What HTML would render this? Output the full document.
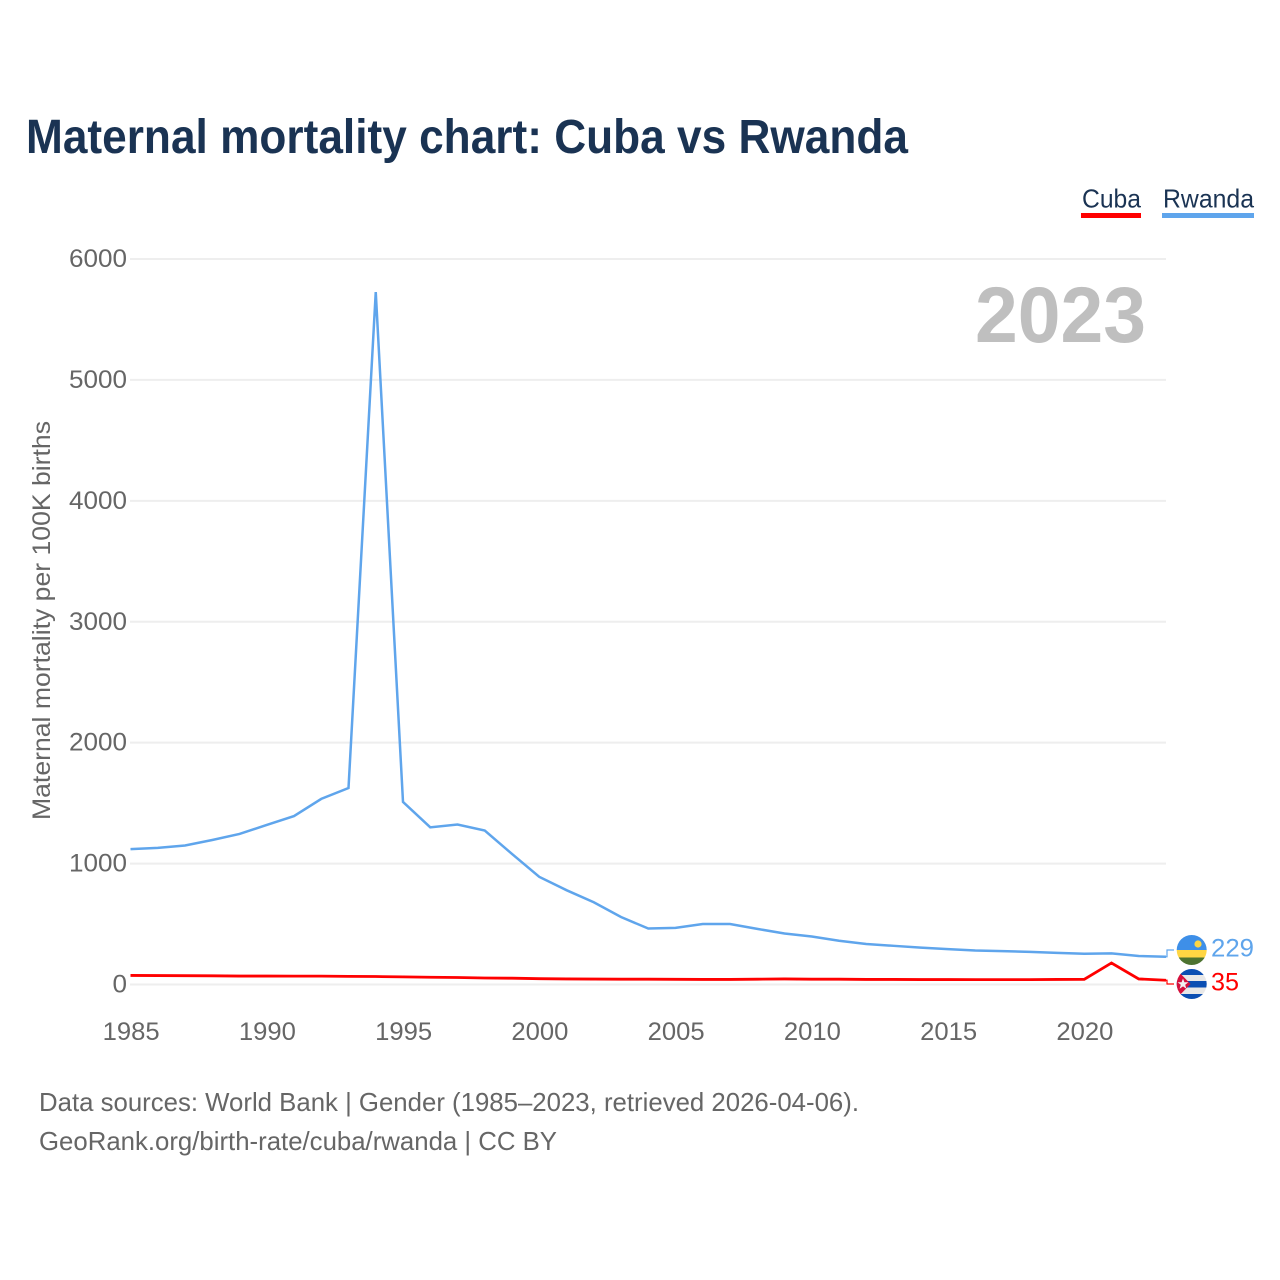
<!DOCTYPE html>
<html lang="en">
<head>
<meta charset="utf-8">
<title>Maternal mortality chart: Cuba vs Rwanda</title>
<style>
html,body{margin:0;padding:0;background:#fff;width:1280px;height:1280px;overflow:hidden}
svg{display:block;font-family:"Liberation Sans",sans-serif}
</style>
</head>
<body>
<svg id="chart" xmlns="http://www.w3.org/2000/svg" width="1280" height="1280" viewBox="0 0 1280 1280">
  <defs>
    <clipPath id="clip-rw"><circle cx="1191.7" cy="950" r="15"/></clipPath>
    <clipPath id="clip-cu"><circle cx="1191.7" cy="984" r="15"/></clipPath>
  </defs>
  <text x="26" y="153" font-size="48" font-weight="700" fill="#1a3353" textLength="882" lengthAdjust="spacingAndGlyphs">Maternal mortality chart: Cuba vs Rwanda</text>

  <g>
    <g>
      <text x="1082" y="207.5" font-size="26" fill="#1a3353" textLength="59" lengthAdjust="spacingAndGlyphs">Cuba</text>
      <rect x="1081" y="213" width="60" height="5" fill="#ff0000"/>
    </g>
    <g>
      <text x="1163" y="207.5" font-size="26" fill="#1a3353" textLength="91" lengthAdjust="spacingAndGlyphs">Rwanda</text>
      <rect x="1162" y="213" width="92" height="5" fill="#5fa5ec"/>
    </g>
  </g>

  <g id="grid"></g>
  <g id="yticks"></g>
  <g id="xticks"></g>

  <text transform="translate(50 620.5) rotate(-90)" text-anchor="middle" font-size="25" fill="#666666" textLength="399" lengthAdjust="spacingAndGlyphs">Maternal mortality per 100K births</text>

  <text x="975" y="342" font-size="79" font-weight="700" fill="#bfbfbf" textLength="171" lengthAdjust="spacingAndGlyphs">2023</text>

  <g id="series"></g>

  <g clip-path="url(#clip-rw)">
    <rect x="1176" y="935" width="32" height="15" fill="#3e8fe8"/>
    <rect x="1176" y="950" width="32" height="7.5" fill="#ffd643"/>
    <rect x="1176" y="957.5" width="32" height="8" fill="#4d7330"/>
    <circle cx="1198" cy="944" r="3.6" fill="#ffd643"/>
  </g>
  <g clip-path="url(#clip-cu)">
    <rect x="1176" y="969" width="32" height="31" fill="#e8e8e8"/>
    <rect x="1176" y="969" width="32" height="6" fill="#0b4fb3"/>
    <rect x="1176" y="981" width="32" height="6.5" fill="#0b4fb3"/>
    <rect x="1176" y="994" width="32" height="6" fill="#0b4fb3"/>
    <polygon points="1176,969 1176,999 1190.5,984" fill="#d5103c"/>
    <polygon points="1183,978.5 1184.4,982.3 1188.4,982.3 1185.2,984.8 1186.4,988.7 1183,986.4 1179.6,988.7 1180.8,984.8 1177.6,982.3 1181.6,982.3" fill="#f2f2f2"/>
  </g>

  <text x="1211" y="956.5" font-size="25" fill="#5fa5ec" textLength="43" lengthAdjust="spacingAndGlyphs">229</text>
  <text x="1211" y="990.5" font-size="25" fill="#ff0000" textLength="28" lengthAdjust="spacingAndGlyphs">35</text>

  <text x="39" y="1111" font-size="26" fill="#666666" textLength="820" lengthAdjust="spacingAndGlyphs">Data sources: World Bank | Gender (1985–2023, retrieved 2026-04-06).</text>
  <text x="39" y="1150" font-size="26" fill="#666666" textLength="518" lengthAdjust="spacingAndGlyphs">GeoRank.org/birth-rate/cuba/rwanda | CC BY</text>
</svg>
<script>
const years = [1985,1986,1987,1988,1989,1990,1991,1992,1993,1994,1995,1996,1997,1998,1999,2000,2001,2002,2003,2004,2005,2006,2007,2008,2009,2010,2011,2012,2013,2014,2015,2016,2017,2018,2019,2020,2021,2022,2023];
const rwandaValues = [1120,1130,1150,1195,1245,1320,1393,1535,1625,5727,1510,1300,1323,1273,1080,890,780,680,558,463,468,500,500,460,422,397,362,335,320,305,293,281,276,270,262,254,257,236,229];
const cubaValues = [75,74,73,72,70,70,69,69,67,66,63,60,58,54,52,48,46,45,44,44,43,42,42,44,46,44,44,42,42,41,41,40,40,40,42,43,178,46,35];
const yTickValues = [0,1000,2000,3000,4000,5000,6000];
const xTickYears = [1985,1990,1995,2000,2005,2010,2015,2020];

const svgNS = 'http://www.w3.org/2000/svg';
const xMin = 1985, xMax = 2023, yMin = 0, yMax = 6000;
const plotLeft = 130.5, plotRight = 1166, plotBottom = 984.5, plotTop = 259;
function xScale(v){ return plotLeft + (v - xMin) / (xMax - xMin) * (plotRight - plotLeft); }
function yScale(v){ return plotBottom - (v - yMin) / (yMax - yMin) * (plotBottom - plotTop); }
function make(tag, attrs, parent, content){
  const el = document.createElementNS(svgNS, tag);
  Object.keys(attrs).forEach(function(k){ el.setAttribute(k, attrs[k]); });
  if (content !== undefined) el.textContent = content;
  parent.appendChild(el);
  return el;
}

const grid = document.getElementById('grid');
const yticks = document.getElementById('yticks');
const xticks = document.getElementById('xticks');
const series = document.getElementById('series');

yTickValues.forEach(function(v){
  const line = make('line', {x1: 130, x2: 1166, y1: yScale(v), y2: yScale(v), stroke: '#eeeeee', 'stroke-width': 2}, grid);
  
  
  const label = make('text', {x: 127, y: yScale(v) + 8, 'text-anchor': 'end', 'font-size': 25, fill: '#666666', textLength: String(v).length * 14.5, lengthAdjust: 'spacingAndGlyphs'}, yticks, String(v));
  
  
});

xTickYears.forEach(function(v){
  const label = make('text', {x: xScale(v) + 0.7, y: 1040, 'text-anchor': 'middle', 'font-size': 25, fill: '#666666', textLength: 57, lengthAdjust: 'spacingAndGlyphs'}, xticks, String(v));
  
  
});

function linePath(values){
  return values.map(function(v, i){
    return (i ? 'L' : 'M') + xScale(years[i]).toFixed(2) + ' ' + yScale(v).toFixed(2);
  }).join(' ');
}
function connectorPath(values, labelY){
  const endX = xScale(years[years.length - 1]);
  const endY = yScale(values[values.length - 1]);
  return 'M' + endX.toFixed(2) + ' ' + endY.toFixed(2) + ' L' + (endX + 1).toFixed(2) + ' ' + endY.toFixed(2) + ' L' + (endX + 1).toFixed(2) + ' ' + labelY + ' L' + (endX + 8).toFixed(2) + ' ' + labelY;
}

const rwandaLine = make('path', {d: linePath(rwandaValues), fill: 'none', stroke: '#5fa5ec', 'stroke-width': 2.5, 'stroke-linejoin': 'miter'}, series);



const cubaLine = make('path', {d: linePath(cubaValues), fill: 'none', stroke: '#ff0000', 'stroke-width': 2.8, 'stroke-linejoin': 'miter'}, series);



const rwandaConnector = make('path', {d: connectorPath(rwandaValues, 950), fill: 'none', stroke: '#5fa5ec', 'stroke-width': 1.2}, series);



const cubaConnector = make('path', {d: connectorPath(cubaValues, 984), fill: 'none', stroke: '#ff0000', 'stroke-width': 1.2}, series);


</script>
</body>
</html>
